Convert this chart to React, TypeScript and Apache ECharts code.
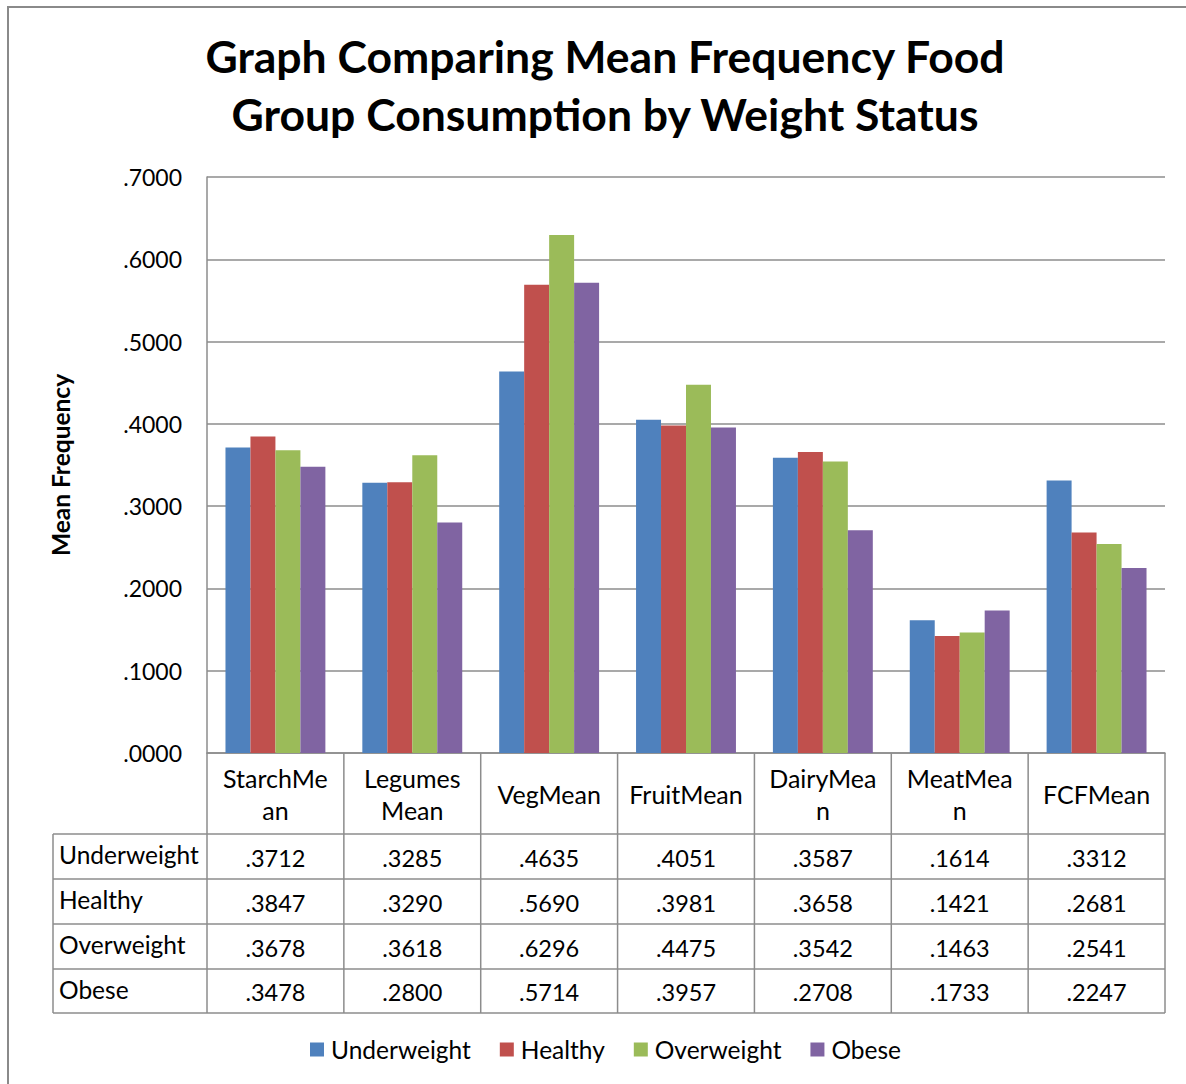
import React, { useEffect, useRef } from "react";
import * as echarts from "echarts";

const categories = ["StarchMean", "LegumesMean", "VegMean", "FruitMean", "DairyMean", "MeatMean", "FCFMean"];
const headerLabels = ["StarchMe\nan", "Legumes\nMean", "VegMean", "FruitMean", "DairyMea\nn", "MeatMea\nn", "FCFMean"];
const seriesNames = ["Underweight", "Healthy", "Overweight", "Obese"];
const underweight = [0.3712, 0.3285, 0.4635, 0.4051, 0.3587, 0.1614, 0.3312];
const healthy = [0.3847, 0.329, 0.569, 0.3981, 0.3658, 0.1421, 0.2681];
const overweight = [0.3678, 0.3618, 0.6296, 0.4475, 0.3542, 0.1463, 0.2541];
const obese = [0.3478, 0.28, 0.5714, 0.3957, 0.2708, 0.1733, 0.2247];
const seriesData = [underweight, healthy, overweight, obese];
const colors = ["#4F81BD", "#C0504D", "#9BBB59", "#8064A2"];
const yMin = 0;
const yMax = 0.7;
const yInterval = 0.1;

const fmt = (v: number) => v.toFixed(4).replace(/^0/, "");

const W = 1186;
const H = 1084;
const FONT = "Lato";
const LINE = "#8c8c8c";

export default function App() {
  const ref = useRef<HTMLDivElement>(null);
  useEffect(() => {
    if (!ref.current) return;
    const chart = echarts.init(ref.current, null, { renderer: "svg" });
    const gridLeft = 207;
    const gridRight = 1165;
    const gridTop = 177;
    const axisY = 753;
    const headerBottom = 834;
    const rowYs = [834, 879, 924, 969, 1013];
    const tableLeft = 53;
    const catW = (gridRight - gridLeft) / categories.length;

    const graphics: any[] = [];
    // outer frame
    graphics.push({
      type: "rect",
      shape: { x: 8, y: 7, width: 1400, height: 1400 },
      style: { fill: "none", stroke: "#8a8a8a", lineWidth: 2 },
      silent: true,
    });
    // y axis title
    graphics.push({
      type: "text",
      x: 60,
      y: 465,
      rotation: Math.PI / 2,
      style: {
        text: "Mean Frequency",
        fontFamily: FONT,
        fontWeight: "bold",
        fontSize: 24.5,
        fill: "#000",
        align: "center",
        verticalAlign: "middle",
      },
    });
    // table horizontal lines
    rowYs.forEach((y) => {
      graphics.push({
        type: "line",
        shape: { x1: tableLeft, y1: y, x2: gridRight, y2: y },
        style: { stroke: LINE, lineWidth: 1.5 },
      });
    });
    graphics.push({
      type: "line",
      shape: { x1: tableLeft, y1: headerBottom, x2: tableLeft, y2: rowYs[rowYs.length - 1] },
      style: { stroke: LINE, lineWidth: 1.5 },
    });
    for (let i = 0; i <= categories.length; i++) {
      const x = gridLeft + i * catW;
      graphics.push({
        type: "line",
        shape: { x1: x, y1: axisY, x2: x, y2: rowYs[rowYs.length - 1] },
        style: { stroke: LINE, lineWidth: 1.5 },
      });
    }
    // header labels
    headerLabels.forEach((lab, i) => {
      graphics.push({
        type: "text",
        x: gridLeft + (i + 0.5) * catW,
        y: (axisY + headerBottom) / 2,
        style: {
          text: lab,
          fontFamily: FONT,
          fontSize: 25,
          lineHeight: 32,
          fill: "#000",
          align: "center",
          verticalAlign: "middle",
        },
      });
    });
    // rows
    seriesNames.forEach((name, r) => {
      const cy = (rowYs[r] + rowYs[r + 1]) / 2;
      graphics.push({
        type: "text",
        x: 59,
        y: cy - 2,
        style: {
          text: name,
          fontFamily: FONT,
          fontSize: 24.5,
          fill: "#000",
          align: "left",
          verticalAlign: "middle",
        },
      });
      seriesData[r].forEach((v, i) => {
        graphics.push({
          type: "text",
          x: gridLeft + (i + 0.5) * catW,
          y: cy + 1,
          style: {
            text: fmt(v),
            fontFamily: FONT,
            fontSize: 23.5,
            fill: "#000",
            align: "center",
            verticalAlign: "middle",
          },
        });
      });
    });

    chart.setOption({
      animation: false,
      backgroundColor: "#fff",
      title: {
        text: "Graph Comparing Mean Frequency Food\nGroup Consumption by Weight Status",
        left: 600,
        top: 21,
        textAlign: "center",
        textStyle: {
          fontFamily: FONT,
          fontWeight: "bold",
          fontSize: 44.5,
          lineHeight: 58,
          color: "#000",
        },
      },
      legend: {
        data: seriesNames,
        left: 305,
        top: 1032,
        itemWidth: 14,
        itemHeight: 14,
        itemGap: 29,
        icon: "rect",
        textStyle: { fontFamily: FONT, fontSize: 24.5, color: "#000", padding: [0, 0, 0, 2] },
      },
      grid: {
        left: gridLeft,
        right: W - gridRight,
        top: gridTop,
        bottom: H - axisY,
        containLabel: false,
      },
      xAxis: {
        type: "category",
        data: categories,
        axisLine: { show: true, lineStyle: { color: LINE, width: 1.5 } },
        axisTick: { show: false },
        axisLabel: { show: false },
      },
      yAxis: {
        type: "value",
        min: yMin,
        max: yMax,
        interval: yInterval,
        axisLine: { show: true, lineStyle: { color: LINE, width: 1.5 } },
        axisTick: { show: false },
        axisLabel: {
          formatter: (v: number) => fmt(v),
          fontFamily: FONT,
          fontSize: 23,
          color: "#000",
          margin: 25,
        },
        splitLine: { show: true, lineStyle: { color: LINE, width: 1.5 } },
      },
      series: seriesNames.map((name, i) => ({
        name,
        type: "bar",
        data: seriesData[i],
        barGap: "0%",
        barCategoryGap: "27%",
        itemStyle: { color: colors[i] },
      })),
      graphic: graphics,
    });
    return () => chart.dispose();
  }, []);
  return (
    <div
      ref={ref}
      style={{ position: "absolute", left: 0, top: 0, width: W, height: H }}
    />
  );
}
